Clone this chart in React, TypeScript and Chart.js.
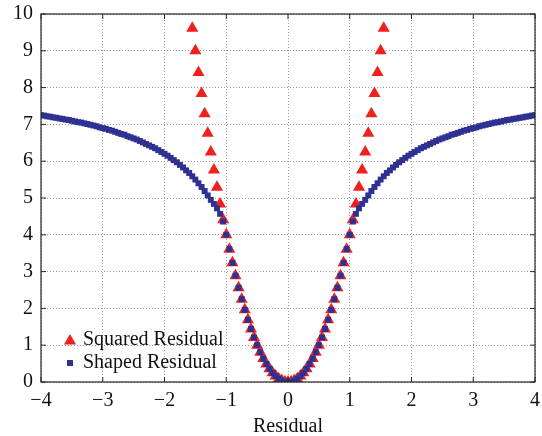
import React, { useEffect, useRef } from "react";
import { Chart, registerables } from "chart.js";

Chart.register(...registerables);

const seriesNames = ["Squared Residual", "Shaped Residual"];
const xTitle = "Residual";
const xTicks = [-4, -3, -2, -1, 0, 1, 2, 3, 4];
const xTickLabels = ["\u22124", "\u22123", "\u22122", "\u22121", "0", "1", "2", "3", "4"];
const yTicks = [0, 1, 2, 3, 4, 5, 6, 7, 8, 9, 10];
const yTickLabels = ["0", "1", "2", "3", "4", "5", "6", "7", "8", "9", "10"];

const shapedX = [
  -4, -3.95, -3.9, -3.85, -3.8, -3.75, -3.7, -3.65, -3.6, -3.55,
  -3.5, -3.45, -3.4, -3.35, -3.3, -3.25, -3.2, -3.15, -3.1, -3.05,
  -3, -2.95, -2.9, -2.85, -2.8, -2.75, -2.7, -2.65, -2.6, -2.55,
  -2.5, -2.45, -2.4, -2.35, -2.3, -2.25, -2.2, -2.15, -2.1, -2.05,
  -2, -1.95, -1.9, -1.85, -1.8, -1.75, -1.7, -1.65, -1.6, -1.55,
  -1.5, -1.45, -1.4, -1.35, -1.3, -1.25, -1.2, -1.15, -1.1, -1.05,
  -1, -0.95, -0.9, -0.85, -0.8, -0.75, -0.7, -0.65, -0.6, -0.55,
  -0.5, -0.45, -0.4, -0.35, -0.3, -0.25, -0.2, -0.15, -0.1, -0.05,
  0,
  0.05, 0.1, 0.15, 0.2, 0.25, 0.3, 0.35, 0.4, 0.45, 0.5,
  0.55, 0.6, 0.65, 0.7, 0.75, 0.8, 0.85, 0.9, 0.95, 1,
  1.05, 1.1, 1.15, 1.2, 1.25, 1.3, 1.35, 1.4, 1.45, 1.5,
  1.55, 1.6, 1.65, 1.7, 1.75, 1.8, 1.85, 1.9, 1.95, 2,
  2.05, 2.1, 2.15, 2.2, 2.25, 2.3, 2.35, 2.4, 2.45, 2.5,
  2.55, 2.6, 2.65, 2.7, 2.75, 2.8, 2.85, 2.9, 2.95, 3,
  3.05, 3.1, 3.15, 3.2, 3.25, 3.3, 3.35, 3.4, 3.45, 3.5,
  3.55, 3.6, 3.65, 3.7, 3.75, 3.8, 3.85, 3.9, 3.95, 4,
];

const shapedY = [
  7.25, 7.24, 7.22, 7.21, 7.19, 7.18, 7.16, 7.15, 7.13, 7.12,
  7.10, 7.08, 7.06, 7.05, 7.03, 7.01, 6.99, 6.97, 6.95, 6.92,
  6.90, 6.88, 6.85, 6.83, 6.80, 6.77, 6.74, 6.72, 6.68, 6.65,
  6.62, 6.59, 6.55, 6.51, 6.47, 6.43, 6.39, 6.35, 6.30, 6.25,
  6.20, 6.15, 6.09, 6.03, 5.97, 5.90, 5.83, 5.75, 5.68, 5.59,
  5.50, 5.40, 5.30, 5.19, 5.07, 4.95, 4.84, 4.72, 4.57, 4.36,
  4.00, 3.61, 3.24, 2.89, 2.56, 2.25, 1.96, 1.69, 1.44, 1.21,
  1.00, 0.81, 0.64, 0.49, 0.36, 0.25, 0.16, 0.09, 0.04, 0.01,
  0,
  0.01, 0.04, 0.09, 0.16, 0.25, 0.36, 0.49, 0.64, 0.81, 1.00,
  1.21, 1.44, 1.69, 1.96, 2.25, 2.56, 2.89, 3.24, 3.61, 4.00,
  4.36, 4.57, 4.72, 4.84, 4.95, 5.07, 5.19, 5.30, 5.40, 5.50,
  5.59, 5.68, 5.75, 5.83, 5.90, 5.97, 6.03, 6.09, 6.15, 6.20,
  6.25, 6.30, 6.35, 6.39, 6.43, 6.47, 6.51, 6.55, 6.59, 6.62,
  6.65, 6.68, 6.72, 6.74, 6.77, 6.80, 6.83, 6.85, 6.88, 6.90,
  6.92, 6.95, 6.97, 6.99, 7.01, 7.03, 7.05, 7.06, 7.08, 7.10,
  7.12, 7.13, 7.15, 7.16, 7.18, 7.19, 7.21, 7.22, 7.24, 7.25,
];

const squaredX = [
  -1.55, -1.5, -1.45, -1.4, -1.35, -1.3, -1.25, -1.2, -1.15, -1.1,
  -1.05, -1, -0.95, -0.9, -0.85, -0.8, -0.75, -0.7, -0.65, -0.6,
  -0.55, -0.5, -0.45, -0.4, -0.35, -0.3, -0.25, -0.2, -0.15, -0.1,
  -0.05, 0, 0.05, 0.1, 0.15, 0.2, 0.25, 0.3, 0.35, 0.4,
  0.45, 0.5, 0.55, 0.6, 0.65, 0.7, 0.75, 0.8, 0.85, 0.9,
  0.95, 1, 1.05, 1.1, 1.15, 1.2, 1.25, 1.3, 1.35, 1.4,
  1.45, 1.5, 1.55,
];

const squaredY = [
  9.61, 9.00, 8.41, 7.84, 7.29, 6.76, 6.25, 5.76, 5.29, 4.84,
  4.41, 4.00, 3.61, 3.24, 2.89, 2.56, 2.25, 1.96, 1.69, 1.44,
  1.21, 1.00, 0.81, 0.64, 0.49, 0.36, 0.25, 0.16, 0.09, 0.04,
  0.01, 0, 0.01, 0.04, 0.09, 0.16, 0.25, 0.36, 0.49, 0.64,
  0.81, 1.00, 1.21, 1.44, 1.69, 1.96, 2.25, 2.56, 2.89, 3.24,
  3.61, 4.00, 4.41, 4.84, 5.29, 5.76, 6.25, 6.76, 7.29, 7.84,
  8.41, 9.00, 9.61,
];

const RED = "#f0201f";
const BLUE = "#2d3192";
const FONT = "'Liberation Serif', 'Times New Roman', serif";

const framePlugin = {
  id: "frameTicks",
  afterDatasetsDraw(chart: any) {
    const { ctx, chartArea } = chart;
    const { left, right, top, bottom } = chartArea;
    const xs = chart.scales.x;
    const ys = chart.scales.y;
    ctx.save();
    ctx.strokeStyle = "#262626";
    ctx.lineWidth = 1.2;
    ctx.setLineDash([]);
    ctx.strokeRect(left, top, right - left, bottom - top);
    ctx.lineWidth = 1;
    const tl = 5;
    ctx.beginPath();
    xTicks.forEach((v) => {
      const px = xs.getPixelForValue(v);
      ctx.moveTo(px, bottom);
      ctx.lineTo(px, bottom - tl);
      ctx.moveTo(px, top);
      ctx.lineTo(px, top + tl);
    });
    yTicks.forEach((v) => {
      const py = ys.getPixelForValue(v);
      ctx.moveTo(left, py);
      ctx.lineTo(left + tl, py);
      ctx.moveTo(right, py);
      ctx.lineTo(right - tl, py);
    });
    ctx.stroke();
    ctx.restore();
  },
  afterDraw(chart: any) {
    const { ctx, chartArea } = chart;
    ctx.save();
    ctx.fillStyle = "#111";
    ctx.font = `20px ${FONT}`;
    ctx.textAlign = "center";
    ctx.textBaseline = "alphabetic";
    ctx.fillText(xTitle, (chartArea.left + chartArea.right) / 2, 432);

    // legend
    const mx = 70;
    const r = 7;
    const y1 = 341;
    const y2 = 363;
    ctx.fillStyle = RED;
    ctx.beginPath();
    ctx.moveTo(mx, y1 - r);
    ctx.lineTo(mx + Math.sin((2 * Math.PI) / 3) * r, y1 + r / 2);
    ctx.lineTo(mx - Math.sin((2 * Math.PI) / 3) * r, y1 + r / 2);
    ctx.closePath();
    ctx.fill();
    ctx.fillStyle = BLUE;
    ctx.fillRect(mx - 3, y2 - 3, 6, 6);
    ctx.fillStyle = "#111";
    ctx.textAlign = "left";
    ctx.textBaseline = "middle";
    ctx.fillText(seriesNames[0], 83, y1 - 1);
    ctx.fillText(seriesNames[1], 83, y2);
    ctx.restore();
  },
};

export default function App() {
  const ref = useRef<HTMLCanvasElement>(null);
  useEffect(() => {
    if (!ref.current) return;
    Chart.defaults.font.family = FONT;
    const chart = new Chart(ref.current, {
      type: "scatter",
      data: {
        datasets: [
          {
            label: seriesNames[0],
            data: squaredX.map((x, i) => ({ x, y: squaredY[i] })),
            pointStyle: "triangle",
            pointRadius: 7,
            pointHoverRadius: 7,
            backgroundColor: RED,
            borderColor: RED,
            borderWidth: 0,
            showLine: false,
            order: 2,
          },
          {
            label: seriesNames[1],
            data: shapedX.map((x, i) => ({ x, y: shapedY[i] })),
            pointStyle: "rect",
            pointRadius: 4.2,
            pointHoverRadius: 4.2,
            backgroundColor: BLUE,
            borderColor: BLUE,
            borderWidth: 0,
            showLine: false,
            order: 1,
          },
        ],
      },
      options: {
        responsive: false,
        animation: false,
        events: [],
        layout: { padding: { top: 14, right: 6, left: 0, bottom: 0 } },
        plugins: {
          legend: { display: false },
          tooltip: { enabled: false },
          title: { display: false },
        },
        scales: {
          x: {
            type: "linear",
            min: -4,
            max: 4,
            afterFit: (s: any) => {
              s.height = 54;
              s.paddingLeft = 0;
              s.paddingRight = 0;
            },
            afterBuildTicks: (s: any) => {
              s.ticks = xTicks.map((v) => ({ value: v }));
            },
            ticks: {
              padding: 7,
              color: "#111",
              font: { size: 20, family: FONT },
              maxRotation: 0,
              autoSkip: false,
              callback: (v: any) => {
                const i = xTicks.indexOf(Number(v));
                return i >= 0 ? xTickLabels[i] : "";
              },
            },
            grid: {
              color: "rgba(140,140,140,0.85)",
              lineWidth: 1,
              drawTicks: false,
            },
            border: { display: false, dash: [1, 2] },
          },
          y: {
            type: "linear",
            min: 0,
            max: 10,
            afterFit: (s: any) => {
              s.width = 41;
              s.paddingTop = 0;
              s.paddingBottom = 0;
            },
            afterBuildTicks: (s: any) => {
              s.ticks = yTicks.map((v) => ({ value: v }));
            },
            ticks: {
              padding: 8,
              color: "#111",
              font: { size: 20, family: FONT },
              autoSkip: false,
              callback: (v: any) => {
                const i = yTicks.indexOf(Number(v));
                return i >= 0 ? yTickLabels[i] : "";
              },
            },
            grid: {
              color: "rgba(140,140,140,0.85)",
              lineWidth: 1,
              drawTicks: false,
            },
            border: { display: false, dash: [1, 2] },
          },
        },
      },
      plugins: [framePlugin],
    });
    return () => chart.destroy();
  }, []);
  return (
    <div style={{ position: "absolute", left: 0, top: 0, width: 542, height: 436, background: "#fff" }}>
      <canvas ref={ref} width={542} height={436} style={{ display: "block" }} />
    </div>
  );
}
